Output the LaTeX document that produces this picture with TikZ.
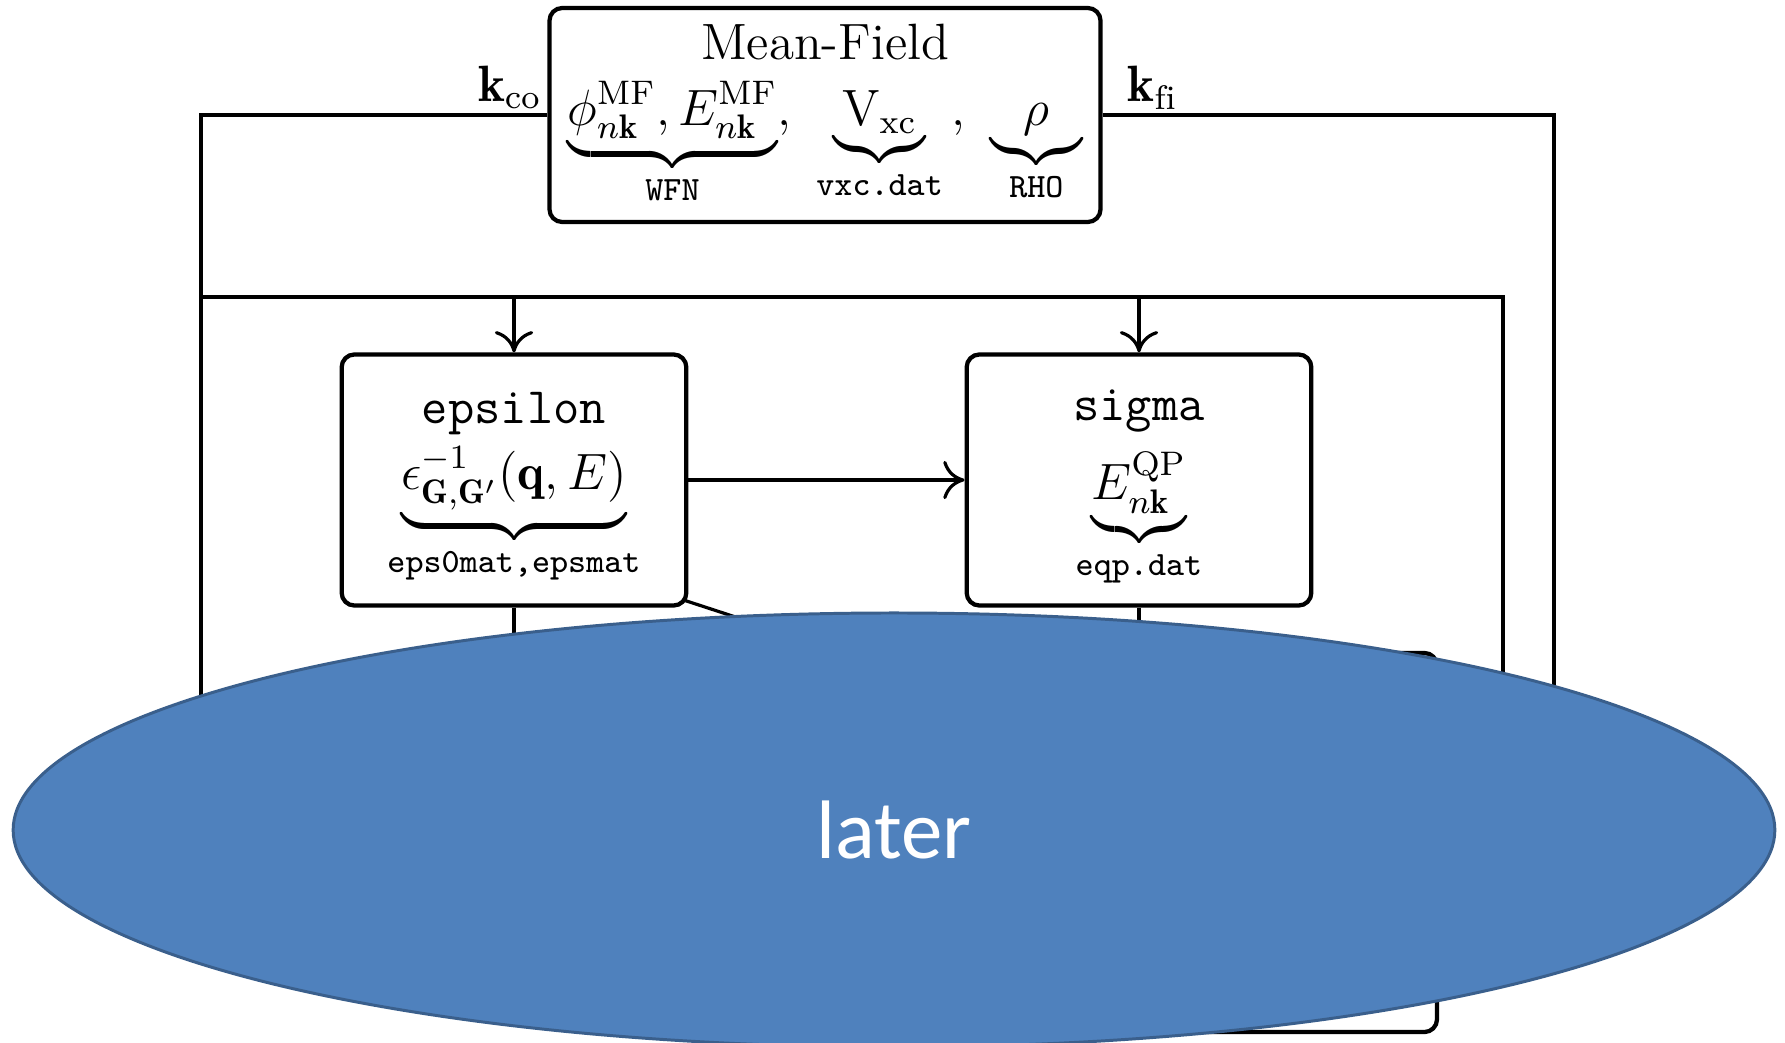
\documentclass[tikz,border=0pt,12pt]{standalone}
\usepackage{amsmath,amssymb}
\usepackage{fontspec}
\usepackage{xcolor}
\newfontfamily\slidefont{Carlito}
\usetikzlibrary{shapes.geometric,arrows.meta}
\definecolor{slideblue}{HTML}{4F81BD}
\definecolor{slideedge}{HTML}{3A5F8C}
\pgfkeys{tikz/progbox/.style={draw,line width=1pt,rounded corners=3pt,align=center,inner sep=2pt}}
\pgfkeys{tikz/feed/.style={line width=0.75pt}}
\pgfkeys{tikz/feedarrow/.style={feed,-{To[length=5pt,width=9pt]}}}
\newcommand*\filebrace[2]{\underbrace{#1}_{\texttt{#2}}}
\newcommand*\topstrut{\rule{0pt}{11.5pt}}

\begin{document}
\begin{tikzpicture}[x=0.235pt,y=-0.235pt]
    \useasboundingbox (0,0) rectangle (1785,1043);
    \node[progbox,minimum width=129.5pt,minimum height=50.3pt] (mf) at (825,115)
        {Mean-Field\\[1pt]
         $\filebrace{\phi^{\mathrm{MF}}_{n\mathbf{k}},E^{\mathrm{MF}}_{n\mathbf{k}}}{WFN},\ \filebrace{\mathrm{V}_{\mathrm{xc}}}{vxc.dat}\,,\ \filebrace{\rho}{RHO}$};
    \node[progbox,minimum width=81pt,minimum height=59pt] (eps) at (514,480)
        {\topstrut\texttt{epsilon}\\[1pt]
         $\filebrace{\epsilon^{-1}_{\mathbf{G},\mathbf{G}'}(\mathbf{q},E)}{eps0mat,epsmat}$};
    \node[progbox,minimum width=81pt,minimum height=59pt] (sig) at (1139,480)
        {\topstrut\texttt{sigma}\\[4pt]
         $\filebrace{E^{\mathrm{QP}}_{n\mathbf{k}}}{eqp.dat}$};
    \node[progbox,minimum width=79.2pt,minimum height=89.1pt] (lower) at (1268.5,842.5) {};
    \coordinate (coend) at (201,830);
    \coordinate (fiend) at (1554,830);
    \coordinate (branch) at (201,297);
    \coordinate (branchend) at (1503,830);
    \coordinate (downend) at (0,830);
    \coordinate (diagend) at (1100,736);
    \draw[feed] (mf.west) node[anchor=south east,inner sep=1pt] {$\mathbf{k}_{\mathrm{co}}$} -| (coend);
    \draw[feed] (mf.east) node[anchor=south west,inner sep=1pt,xshift=4.5pt] {$\mathbf{k}_{\mathrm{fi}}$} -| (fiend);
    \draw[feed] (branch) -| (branchend);
    \draw[feedarrow] (branch -| eps.north) -- (eps.north);
    \draw[feedarrow] (branch -| sig.north) -- (sig.north);
    \draw[feedarrow] (eps) -- (sig);
    \draw[feed] (eps.south) -- (eps.south |- downend);
    \draw[feed] (sig.south) -- (sig.south |- downend);
    \draw[feed] (eps.south east) ++(-3,-7) -- (diagend);
    \node[ellipse,fill=slideblue,draw=slideedge,line width=0.7pt,minimum width=414pt,minimum height=102pt,
        inner sep=0pt,text=white,font=\slidefont\fontsize{19.5}{23}\selectfont] (later) at (894,830) {later};
\end{tikzpicture}
\end{document}
